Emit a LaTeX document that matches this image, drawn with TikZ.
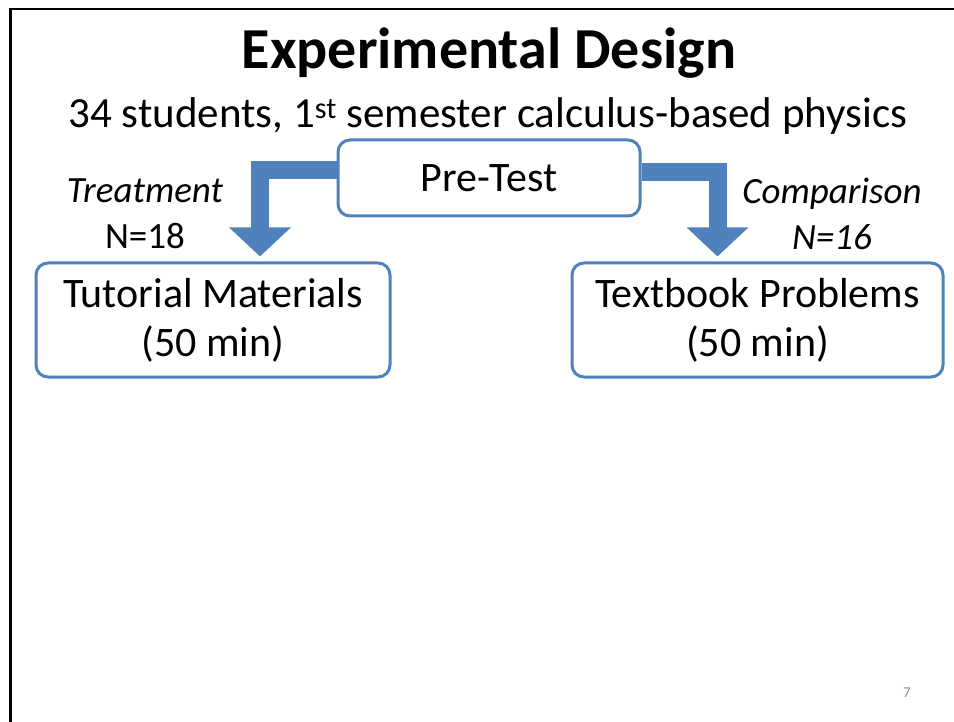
\documentclass[tikz,border=0pt]{standalone}
\usepackage{fontspec}
\setmainfont{Carlito}
\usetikzlibrary{arrows.meta,positioning,calc}
\definecolor{slideblue}{RGB}{79,129,189}
\definecolor{pagegray}{RGB}{140,140,140}

\tikzset{
  stagebox/.style={draw=slideblue,line width=3pt,rounded corners=12pt,fill=white,align=center,font=\fontsize{42}{49}\selectfont},
  flow/.style={draw=slideblue,line width=18pt,line join=miter,-{Triangle[width=60pt,length=29pt]}},
  grouplabel/.style={align=center,font=\fontsize{37}{46}\selectfont}
}

\begin{document}
\begin{tikzpicture}[x=1pt,y=-1pt]
  \useasboundingbox (0,0) rectangle (954,722);
  \draw[line width=2.5pt] (10.5,722) -- (10.5,9) -- (954,9);
  \node[font=\fontsize{58}{66}\selectfont\bfseries] (title) at (489,53) {Experimental Design};
  \node[font=\fontsize{43}{50}\selectfont] (sub) at (488,116) {34 students, 1\textsuperscript{st} semester calculus-based physics};
  \node[stagebox,minimum width=302pt,minimum height=76pt] (pre) at (489,178) {Pre-Test};
  \node[stagebox,minimum width=354pt,minimum height=114pt] (tut) at (213,320) {Tutorial Materials\\(50 min)};
  \node[stagebox,minimum width=371pt,minimum height=114pt] (tex) at (757.5,320) {Textbook Problems\\(50 min)};
  \draw[flow] ([yshift=8pt]pre.west) -| ([xshift=47pt,yshift=5pt]tut.north);
  \draw[flow] ([yshift=6pt]pre.east) -| ([xshift=-40pt,yshift=5pt]tex.north);
  \node[grouplabel] (treat) at (145,214) {\textit{Treatment}\\N=18};
  \node[grouplabel] (comp) at (832,214) {\textit{Comparison}\\\textit{N=16}};
  \node[text=pagegray,font=\fontsize{15}{17}\selectfont] (page) at (907,693) {7};
\end{tikzpicture}
\end{document}
